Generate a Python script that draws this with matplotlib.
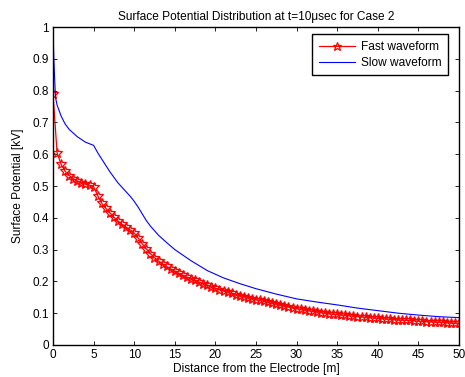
import matplotlib
matplotlib.use("Agg")
import matplotlib.pyplot as plt

plt.rcParams['font.family'] = ['Liberation Sans', 'DejaVu Sans']

fast_x = [i * 0.5 for i in range(101)]
fast_v = [0.790, 0.605, 0.568, 0.546, 0.533, 0.523, 0.516, 0.510, 0.506, 0.502,
          0.498, 0.470, 0.446, 0.430, 0.416, 0.402, 0.390, 0.380, 0.371, 0.362,
          0.352, 0.336, 0.318, 0.302, 0.287, 0.275, 0.264, 0.255, 0.247, 0.239,
          0.232, 0.225, 0.219, 0.213, 0.208, 0.203, 0.198, 0.193, 0.188, 0.183,
          0.178, 0.174, 0.170, 0.166, 0.162, 0.158, 0.155, 0.152, 0.149, 0.145,
          0.142, 0.140, 0.137, 0.134, 0.131, 0.128, 0.125, 0.122, 0.119, 0.116,
          0.114, 0.112, 0.110, 0.108, 0.106, 0.104, 0.102, 0.100, 0.098, 0.097,
          0.096, 0.094, 0.093, 0.092, 0.091, 0.089, 0.088, 0.087, 0.086, 0.085,
          0.084, 0.083, 0.082, 0.081, 0.080, 0.079, 0.078, 0.0775, 0.077, 0.076,
          0.075, 0.074, 0.073, 0.0725, 0.072, 0.0715, 0.071, 0.070, 0.069, 0.0685,
          0.068]

slow_x = [0, 0.1, 0.3, 0.5, 1, 1.5, 2, 3, 4, 5, 5.5, 6, 7, 8, 9, 9.5, 10, 10.5,
          11, 11.5, 12, 13, 14, 15, 17, 19, 21, 23, 25, 27.5, 30, 32.5, 35,
          37.5, 40, 42.5, 45, 47.5, 50]
slow_v = [1.0, 0.90, 0.78, 0.755, 0.72, 0.695, 0.678, 0.655, 0.638, 0.628,
          0.605, 0.585, 0.545, 0.51, 0.482, 0.468, 0.452, 0.433, 0.412, 0.391,
          0.374, 0.345, 0.322, 0.300, 0.265, 0.234, 0.211, 0.193, 0.177, 0.160,
          0.145, 0.135, 0.126, 0.116, 0.108, 0.100, 0.094, 0.089, 0.086]

xticks = [0, 5, 10, 15, 20, 25, 30, 35, 40, 45, 50]
yticks = [0, 0.1, 0.2, 0.3, 0.4, 0.5, 0.6, 0.7, 0.8, 0.9, 1.0]
ytick_labels = ['0', '0.1', '0.2', '0.3', '0.4', '0.5', '0.6', '0.7', '0.8', '0.9', '1']

fig = plt.figure(figsize=(4.65, 3.77), dpi=100)
ax = fig.add_axes([0.114, 0.085, 0.873, 0.843])

ax.plot(fast_x, fast_v, color='red', linewidth=0.9, marker='*', markersize=7,
        markerfacecolor='none', markeredgecolor='red', markeredgewidth=0.9,
        label='Fast waveform')
ax.plot(slow_x, slow_v, color='blue', linewidth=0.8, label='Slow waveform')

ax.set_xlim(0, 50)
ax.set_ylim(0, 1)
ax.set_xticks(xticks)
ax.set_xticklabels([str(t) for t in xticks])
ax.set_yticks(yticks)
ax.set_yticklabels(ytick_labels)
ax.tick_params(direction='in', top=True, right=True, labelsize=8.5, length=3,
               width=0.6, pad=3)
for s in ax.spines.values():
    s.set_linewidth(1.0)

ax.set_title('Surface Potential Distribution at t=10μsec for Case 2', fontsize=8.6, pad=5)
ax.set_xlabel('Distance from the Electrode [m]', fontsize=8.6, labelpad=1)
ax.set_ylabel('Surface Potential [kV]', fontsize=8.6, labelpad=6)

leg = ax.legend(loc='upper right', bbox_to_anchor=(0.973, 0.978), fontsize=8.6,
                fancybox=False, framealpha=1, edgecolor='black', borderaxespad=0,
                handlelength=3.0, handletextpad=0.5, borderpad=0.55,
                labelspacing=0.35, markerscale=0.9)
leg.get_frame().set_linewidth(1.0)

fig.savefig('out.png', dpi=100)
